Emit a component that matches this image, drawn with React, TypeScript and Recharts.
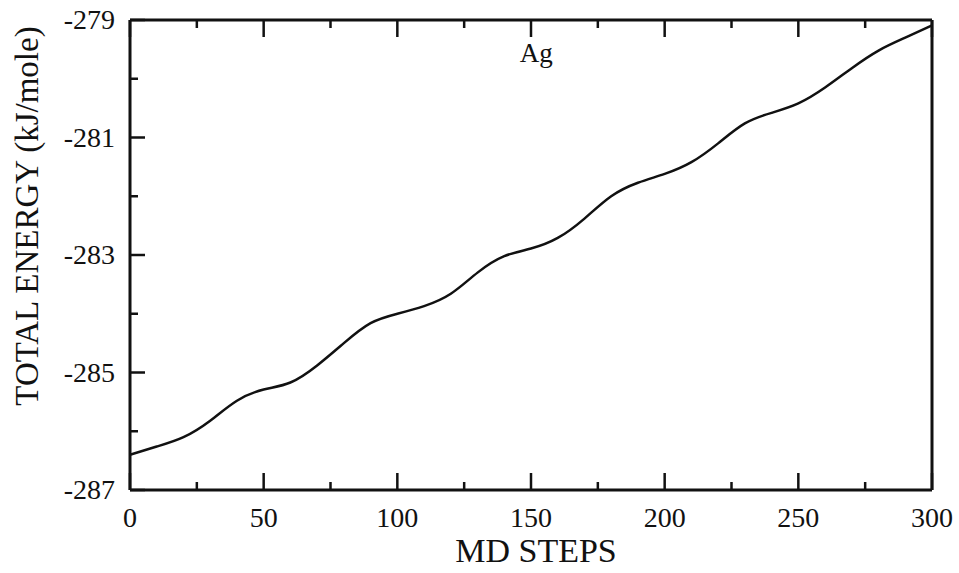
import { LineChart, Line, XAxis, YAxis, ReferenceDot, Label } from "recharts"

// MD steps vs total energy (Ag)
const steps = [0, 10, 20, 30, 40, 50, 60, 70, 80, 90, 100, 110, 120, 130, 140, 150, 160, 170, 180, 190, 200, 210, 220, 230, 240, 250, 260, 270, 280, 290, 300]
const energy = [
  -286.4, -286.26, -286.1, -285.82, -285.48, -285.29, -285.17, -284.88, -284.5, -284.16, -284.0,
  -283.87, -283.66, -283.3, -283.02, -282.89, -282.71, -282.38, -282.0, -281.77, -281.62,
  -281.42, -281.1, -280.76, -280.58, -280.42, -280.15, -279.82, -279.52, -279.3, -279.09,
]
const xTicks = [0, 25, 50, 75, 100, 125, 150, 175, 200, 225, 250, 275, 300]
const yTicks = [-287, -286, -285, -284, -283, -282, -281, -280, -279]

const data = steps.map((s, i) => ({ step: s, energy: energy[i] }))

const FONT = "'Liberation Serif', serif"
const INK = "#111"

const isMajorX = (v: number) => v % 50 === 0
const isMajorY = (v: number) => (v + 287) % 2 === 0

const BottomTick = (props: any) => {
  const { x, y, payload } = props
  const len = isMajorX(payload.value) ? 17 : 8
  return (
    <g>
      <line x1={x} y1={y} x2={x} y2={y - len} stroke={INK} strokeWidth={2.5} />
      {isMajorX(payload.value) && (
        <text x={x} y={y + 37} textAnchor="middle" fontFamily={FONT} fontSize={28} fill={INK}>
          {payload.value}
        </text>
      )}
    </g>
  )
}

const TopTick = (props: any) => {
  const { x, y, payload } = props
  const len = isMajorX(payload.value) ? 17 : 8
  return <line x1={x} y1={y} x2={x} y2={y + len} stroke={INK} strokeWidth={2.5} />
}

const LeftTick = (props: any) => {
  const { x, y, payload } = props
  const len = isMajorY(payload.value) ? 15 : 8
  return (
    <g>
      <line x1={x} y1={y} x2={x + len} y2={y} stroke={INK} strokeWidth={2.5} />
      {isMajorY(payload.value) && (
        <text x={x - 15} y={y + 9} textAnchor="end" fontFamily={FONT} fontSize={28} fill={INK}>
          {payload.value}
        </text>
      )}
    </g>
  )
}

const RightTick = (props: any) => {
  const { x, y, payload } = props
  const len = isMajorY(payload.value) ? 15 : 8
  return <line x1={x} y1={y} x2={x - len} y2={y} stroke={INK} strokeWidth={2.5} />
}

export default function App() {
  return (
    <div style={{ position: "absolute", left: 0, top: 0, background: "#fff" }}>
      <LineChart width={959} height={573} data={data} margin={{ top: 0, right: 0, bottom: 0, left: 0 }}>
        <XAxis
          dataKey="step"
          type="number"
          domain={[0, 300]}
          ticks={xTicks}
          interval={0}
          height={83}
          tickSize={0}
          tickMargin={0}
          tickLine={false}
          axisLine={{ stroke: INK, strokeWidth: 3 }}
          tick={<BottomTick />}
        >
          <Label
            content={() => (
              <text x={536} y={562} textAnchor="middle" fontFamily={FONT} fontSize={34} fill={INK}>
                MD STEPS
              </text>
            )}
          />
        </XAxis>
        <XAxis
          xAxisId="top"
          orientation="top"
          dataKey="step"
          type="number"
          domain={[0, 300]}
          ticks={xTicks}
          interval={0}
          height={20}
          tickSize={0}
          tickMargin={0}
          tickLine={false}
          axisLine={{ stroke: INK, strokeWidth: 3 }}
          tick={<TopTick />}
        />
        <YAxis
          type="number"
          domain={[-287, -279]}
          ticks={yTicks}
          interval={0}
          width={130}
          tickSize={0}
          tickMargin={0}
          tickLine={false}
          axisLine={{ stroke: INK, strokeWidth: 3 }}
          tick={<LeftTick />}
        >
          <Label
            content={() => (
              <text
                x={0}
                y={0}
                transform="translate(38, 216) rotate(-90)"
                textAnchor="middle"
                fontFamily={FONT}
                fontSize={33}
                fill={INK}
              >
                TOTAL ENERGY (kJ/mole)
              </text>
            )}
          />
        </YAxis>
        <YAxis
          yAxisId="right"
          orientation="right"
          type="number"
          domain={[-287, -279]}
          ticks={yTicks}
          interval={0}
          width={27}
          tickSize={0}
          tickMargin={0}
          tickLine={false}
          axisLine={{ stroke: INK, strokeWidth: 3 }}
          tick={<RightTick />}
        />
        <Line
          type="natural"
          dataKey="energy"
          stroke={INK}
          strokeWidth={2.5}
          dot={false}
          isAnimationActive={false}
        />
        <ReferenceDot
          x={152}
          y={-279.55}
          r={0}
          fill="none"
          stroke="none"
          label={{ value: "Ag", position: "center", fontFamily: FONT, fontSize: 27, fill: INK }}
        />
      </LineChart>
    </div>
  )
}
